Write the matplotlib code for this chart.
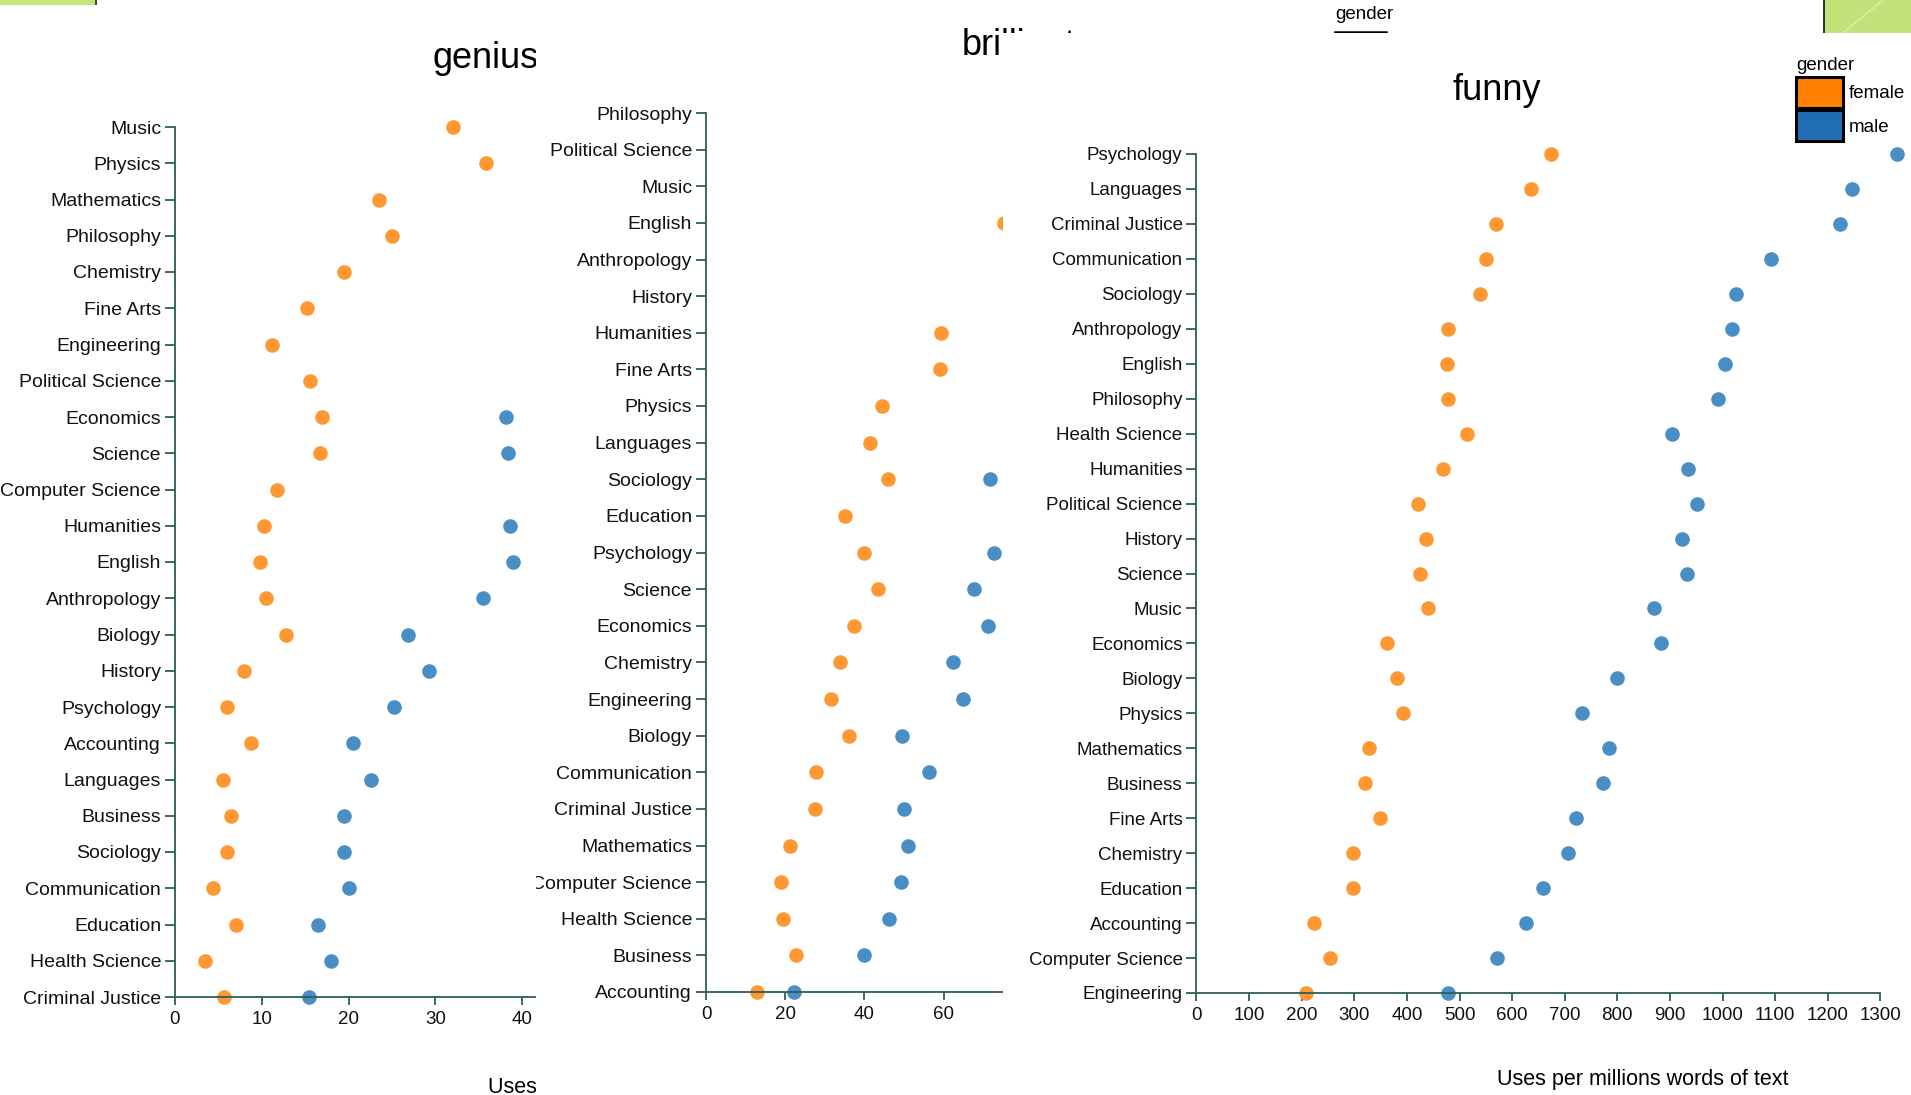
import numpy as np
import matplotlib
matplotlib.use('Agg')
import matplotlib.pyplot as plt
from matplotlib.patches import Rectangle, Patch
from matplotlib.lines import Line2D
from matplotlib.transforms import Bbox, TransformedBbox

plt.rcParams['font.family'] = ['Liberation Sans', 'DejaVu Sans']

nan = np.nan

# genius panel (top to bottom)
genius_cats = ['Music', 'Physics', 'Mathematics', 'Philosophy', 'Chemistry', 'Fine Arts',
               'Engineering', 'Political Science', 'Economics', 'Science', 'Computer Science',
               'Humanities', 'English', 'Anthropology', 'Biology', 'History', 'Psychology',
               'Accounting', 'Languages', 'Business', 'Sociology', 'Communication',
               'Education', 'Health Science', 'Criminal Justice']
genius_female = [32.0, 35.8, 23.5, 25.0, 19.5, 15.2, 11.2, 15.5, 16.9, 16.7, 11.8, 10.2, 9.8,
                 10.5, 12.8, 7.9, 6.0, 8.8, 5.5, 6.4, 6.0, 4.4, 7.0, 3.4, 5.6]
# male values of the top rows lie outside the visible area
genius_male = [nan, nan, nan, nan, nan, nan, nan, 42.5, 38.2, 38.4, 42.5, 38.6, 38.9,
               35.5, 26.8, 29.3, 25.2, 20.5, 22.6, 19.5, 19.5, 20.0, 16.5, 18.0, 15.4]
genius_ticks = [0, 10, 20, 30, 40]

# brilliant panel
brilliant_cats = ['Philosophy', 'Political Science', 'Music', 'English', 'Anthropology',
                  'History', 'Humanities', 'Fine Arts', 'Physics', 'Languages', 'Sociology',
                  'Education', 'Psychology', 'Science', 'Economics', 'Chemistry', 'Engineering',
                  'Biology', 'Communication', 'Criminal Justice', 'Mathematics',
                  'Computer Science', 'Health Science', 'Business', 'Accounting']
brilliant_female = [nan, nan, nan, 75.3, nan, nan, 59.3, 59.1, 44.4, 41.5, 45.9, 35.0, 40.0,
                    43.4, 37.3, 33.9, 31.6, 36.2, 27.9, 27.4, 21.1, 19.0, 19.4, 22.7, 13.0]
brilliant_male = [nan, nan, nan, nan, nan, nan, nan, nan, nan, nan, 71.6, nan, 72.7,
                  67.7, 71.1, 62.5, 64.9, 49.4, 56.2, 50.0, 50.9, 49.2, 46.1, 39.8, 22.1]
brilliant_ticks = [0, 20, 40, 60]

# funny panel
funny_cats = ['Psychology', 'Languages', 'Criminal Justice', 'Communication', 'Sociology',
              'Anthropology', 'English', 'Philosophy', 'Health Science', 'Humanities',
              'Political Science', 'History', 'Science', 'Music', 'Economics', 'Biology',
              'Physics', 'Mathematics', 'Business', 'Fine Arts', 'Chemistry', 'Education',
              'Accounting', 'Computer Science', 'Engineering']
funny_female = [673, 636, 570, 551, 538, 478, 477, 479, 515, 468, 422, 436, 425, 441, 362,
                381, 393, 328, 320, 348, 297, 297, 224, 253, 209]
funny_male = [1331, 1246, 1224, 1092, 1026, 1017, 1005, 992, 903, 935, 951, 923, 933, 869,
              882, 800, 733, 784, 773, 721, 706, 659, 626, 571, 479]
funny_ticks = list(range(0, 1301, 100))

xlabel = 'Uses per millions words of text'

W, H = 1911, 1095
c_female = '#ff9833'
c_male = '#4a8ec6'
axis_col = '#2c5e5b'

fig = plt.figure(figsize=(W / 100, H / 100), dpi=100)
fig.patch.set_facecolor('white')


def px_axes(left, top, right, bottom):
    return fig.add_axes([left / W, 1 - bottom / H, (right - left) / W, (bottom - top) / H])


def dot_panel(ax, cats, female, male, ticks, xmax, title, title_xy, label_xy, fs=14):
    n = len(cats)
    y = np.arange(n)
    ax.plot(female, y, 'o', color=c_female, ms=10.5, mew=0, clip_on=False)
    ax.plot(male, y, 'o', color=c_male, ms=10.5, mew=0, clip_on=False)
    ax.set_ylim(n - 1, 0)
    ax.set_xlim(0, xmax)
    ax.set_yticks(y)
    ax.set_yticklabels(cats)
    ax.set_xticks(ticks)
    ax.patch.set_visible(False)
    for s in ['top', 'right']:
        ax.spines[s].set_visible(False)
    for s in ['left', 'bottom']:
        ax.spines[s].set_color(axis_col)
        ax.spines[s].set_linewidth(1.3)
    ax.tick_params(axis='y', length=7, width=1.3, color=axis_col, labelsize=fs, pad=3,
                   labelcolor='#111111')
    ax.tick_params(axis='x', length=6, width=1.3, color=axis_col, labelsize=13.5, pad=4,
                   labelcolor='#111111')
    ax.text(title_xy[0], title_xy[1], title, transform=ax.transAxes, ha='left',
            va='baseline', fontsize=26, clip_on=False)
    ax.set_xlabel(xlabel, fontsize=15.5, ha='left', va='baseline')
    ax.xaxis.set_label_coords(label_xy[0], label_xy[1])


# panel 1: genius
ax1 = px_axes(175, 127, 536, 997)
ax1.set_zorder(1)
dot_panel(ax1, genius_cats, genius_female, genius_male, genius_ticks, 41.6,
          'genius', (0.712, 1.068), (0.866, -0.110))

# panel 2 sits on top of panel 1
fig.add_artist(Rectangle((536 / W, 0), 1 - 536 / W, 1, transform=fig.transFigure,
                         facecolor='white', edgecolor='none', zorder=2))
ax2 = px_axes(706, 113, 1003, 992)
ax2.set_zorder(3)
dot_panel(ax2, brilliant_cats, brilliant_female, brilliant_male, brilliant_ticks, 75,
          'brilliant', (0.862, 1.066), (1.05, -0.110))
clip2 = TransformedBbox(Bbox.from_extents(536 / W, 0, 1, 1), fig.transFigure)
for lab in ax2.get_yticklabels():
    lab.set_clip_box(clip2)
    lab.set_clip_on(True)

# legend title of panel 2 peeking above panel 3
fig.text(1335 / W, 1 - 19 / H, 'gender', fontsize=13.5, ha='left', va='baseline', zorder=3)
fig.add_artist(Line2D([1335 / W, 1386 / W], [1 - 32 / H, 1 - 32 / H], color='black',
                      lw=1.8, transform=fig.transFigure, zorder=3))

# panel 3 on top of panel 2
fig.add_artist(Rectangle((1003 / W, 0), 1 - 1003 / W, 1 - 33 / H, transform=fig.transFigure,
                         facecolor='white', edgecolor='none', zorder=4))
ax3 = px_axes(1196.4, 154, 1911, 993)
ax3.set_zorder(5)
dot_panel(ax3, funny_cats, funny_female, funny_male, funny_ticks, 1358,
          'funny', (0.3577, 1.0644), (0.4207, -0.1097), fs=13.5)
ax3.spines['bottom'].set_bounds(0, 1300)

handles = [Patch(facecolor='#ff7f00', edgecolor='black', linewidth=2.2, label='female'),
           Patch(facecolor='#1f6db3', edgecolor='black', linewidth=2.2, label='male')]
leg = ax3.legend(handles=handles, title='gender', loc='upper left',
                 bbox_to_anchor=(1796 / W, 1 - 57 / H), bbox_transform=fig.transFigure,
                 frameon=False, borderpad=0, borderaxespad=0, handlelength=2.5,
                 handleheight=2.15, handletextpad=0.3, labelspacing=0.15, fontsize=13.5,
                 title_fontsize=13.5, alignment='left')

# slide decorations
fig.add_artist(Rectangle((0, 1 - 5 / H), 95 / W, 5 / H, transform=fig.transFigure,
                         facecolor='#c4e57a', edgecolor='none', zorder=6))
fig.add_artist(Rectangle((95 / W, 1 - 5 / H), 2 / W, 5 / H, transform=fig.transFigure,
                         facecolor='#444444', edgecolor='none', zorder=6))
fig.add_artist(Rectangle((1823 / W, 1 - 33 / H), 1 - 1823 / W, 33 / H, transform=fig.transFigure,
                         facecolor='#c3e27a', edgecolor='none', zorder=6))
fig.add_artist(Rectangle((1823 / W, 1 - 33 / H), 2 / W, 33 / H, transform=fig.transFigure,
                         facecolor='#333333', edgecolor='none', zorder=6))
fig.add_artist(Line2D([1843 / W, 1883 / W], [1 - 33 / H, 1], color='white', alpha=0.4,
                      lw=1, transform=fig.transFigure, zorder=6))

fig.savefig('out.png', dpi=100)
